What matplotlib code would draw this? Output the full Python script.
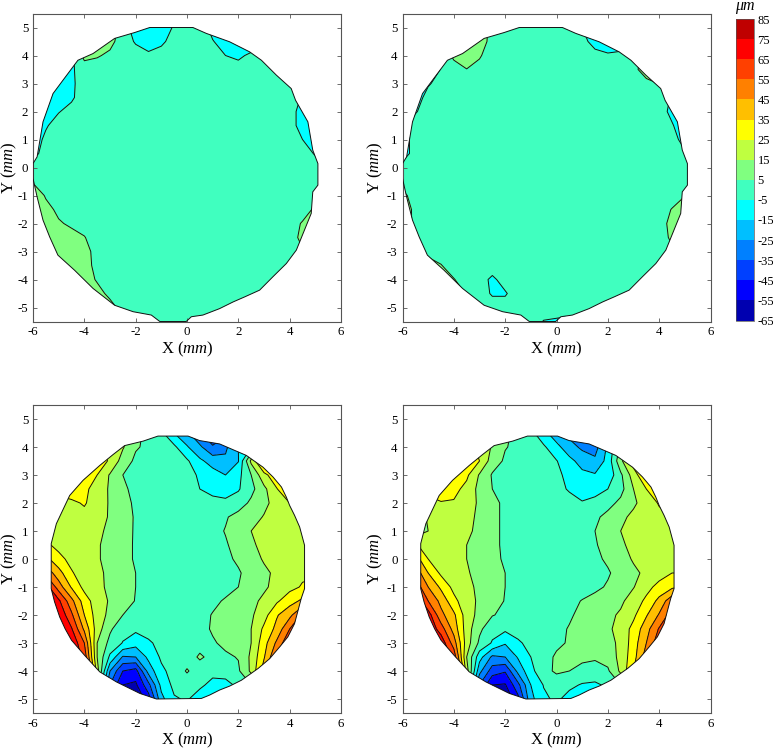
import numpy as np
import matplotlib
matplotlib.use("Agg")
import matplotlib.pyplot as plt
from matplotlib.colors import ListedColormap, BoundaryNorm
from matplotlib.patches import Polygon

plt.rcParams['font.family'] = ['Liberation Serif', 'DejaVu Serif']
plt.rcParams['mathtext.fontset'] = 'custom'
plt.rcParams['mathtext.rm'] = 'Liberation Serif'
plt.rcParams['mathtext.it'] = 'Liberation Serif:italic'
plt.rcParams['axes.unicode_minus'] = False

# ---- data ----
levels = [-65, -55, -45, -35, -25, -15, -5, 5, 15, 25, 35, 45, 55, 65, 75, 85]
level_colors = ['#0000b0', '#0000ff', '#0040ff', '#0080ff', '#00bfff', '#00ffff', '#40ffbf', '#80ff80',
                '#bfff40', '#ffff00', '#ffbf00', '#ff8000', '#ff4000', '#ff0000', '#bf0000']
x_ticks = [-6, -4, -2, 0, 2, 4, 6]
y_ticks = [-5, -4, -3, -2, -1, 0, 1, 2, 3, 4, 5]

x_top = [-6, -5.5, -5, -4.5, -4, -3.5, -3, -2.5, -2, -1.5, -1, -.5, 0, .5, 1, 1.5, 2, 2.5, 3, 3.5, 4, 4.5, 5, 5.5]
y_top = [5.5, 5, 4.5, 4, 3.5, 3, 2.5, 2, 1.5, 1, .5, 0, -.5, -1, -1.5, -2, -2.5, -3, -3.5, -4, -4.5, -5, -5.5]
x_bot = [-5.5, -5, -4.5, -4, -3.5, -3, -2.5, -2, -1.5, -1, -.5, 0, .5, 1, 1.5, 2, 2.5, 3, 3.5, 4, 4.5, 5]
y_bot = [4.5, 4, 3.5, 3, 2.5, 2, 1.5, 1, .5, 0, -.5, -1, -1.5, -2, -2.5, -3, -3.5, -4, -4.5, -5, -5.5]

rim_top_x = [-.55, .23, .75, 1.66, 2.44, 2.9, 3.48, 4.06, 4.23, 4.71, 4.9, 5.1, 5.1, 4.9, 4.84, 4.26, 3.87, 3.35, 2.83, 2.25,
             1.8, 1.27, .62, .17, -.03, -1.06, -1.39, -2.1, -2.82, -3.66, -4.38, -5.03, -5.35, -5.61, -5.84, -6, -6, -5.84,
             -5.61, -5.22, -4.83, -4.25, -3.66, -2.82, -2.04, -1.45]
rim_top_y = [5, 5, 4.79, 4.49, 4.13, 3.83, 3.3, 2.82, 2.4, 1.63, .62, .14, -.63, -.87, -1.64, -2.95, -3.43, -3.9, -4.38, -4.62,
             -4.8, -5.04, -5.27, -5.33, -5.5, -5.5, -5.27, -5.15, -4.92, -4.32, -3.67, -3.13, -2.48, -1.88, -1.05, -.39, .14, .38,
             1.63, 2.64, 3.12, 3.83, 4.07, 4.61, 4.82, 5]
rim_bot_x = [-1.13, .04, .49, 1.27, 2.31, 2.96, 3.35, 3.68, 3.87, 4, 4.19, 4.39, 4.58, 4.58, 4.45, 4.19, 3.93, 3.61, 3.22, 2.77,
             2.12, 1.66, 1.27, .88, .56, -1.19, -1.84, -2.75, -3.4, -3.99, -4.5, -4.75, -4.96, -5.16, -5.29, -5.29, -5.09,
             -4.57, -4.05, -3.4, -2.88, -2.43, -1.71]
rim_bot_y = [4.39, 4.39, 4.23, 4.11, 3.7, 3.28, 2.93, 2.57, 2.21, 1.91, 1.56, 1.14, .49, -1.06, -1.41, -2.31, -2.78, -3.14, -3.56,
             -3.91, -4.33, -4.54, -4.68, -4.86, -4.98, -5, -4.8, -4.39, -4.03, -3.44, -2.9, -2.49, -2.07, -1.53, -1.06, .55, 1.26,
             2.27, 2.81, 3.34, 3.73, 4.05, 4.21]

z_top_left = [
 [0,0,0,0,0,0,10,0,-12,-12,-12,-6,0,0,-12,-12,-12,-12,0,0,0,0,0,0],
 [0,0,0,0,0,0,12,0,-10,-12,-10,-4,0,0,-8,-12,-12,-12,0,0,0,0,0,0],
 [0,0,0,0,12,12,8,0,-6,-10,-7,-1,0,0,-4.5,-9,-11,-12,0,0,0,0,0,0],
 [0,0,0,-8,8,6,3,0,-1,-3,-1,0,0,0,-2,-5,-7,-3,0,0,0,0,0,0],
 [0,0,-12,-6.5,0,0,0,0,0,0,0,0,0,0,0,0,-1,0,0,0,0,0,0,0],
 [0,-12,-11,-7,0,0,0,0,0,0,0,0,0,0,0,0,0,0,0,0,0,0,0,0],
 [-12,-12,-10,-6.5,0,0,0,0,0,0,0,0,0,0,0,0,0,0,0,0,0,-6,-12,-12],
 [-12,-12,-5.5,-2,0,0,0,0,0,0,0,0,0,0,0,0,0,0,0,0,0,-10,-12,-12],
 [-12,-6,-1,0,0,0,0,0,0,0,0,0,0,0,0,0,0,0,0,0,0,-10,-12,-12],
 [-10,-3,0,0,0,0,0,0,0,0,0,0,0,0,0,0,0,0,0,0,0,-5,-12,-12],
 [-9,0,0,0,0,0,0,0,0,0,0,0,0,0,0,0,0,0,0,0,0,0,-6,-12],
 [0,0,0,0,0,0,0,0,0,0,0,0,0,0,0,0,0,0,0,0,0,0,0,0],
 [4,0,0,0,0,0,0,0,0,0,0,0,0,0,0,0,0,0,0,0,0,0,0,0],
 [12,4,0,0,0,0,0,0,0,0,0,0,0,0,0,0,0,0,0,0,0,0,0,0],
 [12,8,3,0,0,0,0,0,0,0,0,0,0,0,0,0,0,0,0,0,0,0,7,12],
 [12,12,6,3.5,1,0,0,0,0,0,0,0,0,0,0,0,0,0,0,0,0,6,12,12],
 [12,12,6,8,5.5,0,0,0,0,0,0,0,0,0,0,0,0,0,0,0,0,8,12,12],
 [12,12,10,12,9,1,0,0,0,0,0,0,0,0,0,0,0,0,0,0,0,4,8,8],
 [12,12,12,12,9,2,0,0,0,0,0,0,0,0,0,0,0,0,0,0,0,0,0,0],
 [12,12,12,12,12,3.5,0,0,0,0,0,0,0,0,0,0,0,0,0,0,0,0,0,0],
 [12,12,12,12,12,10,1.5,0,0,0,0,0,0,0,0,0,0,0,0,0,0,0,0,0],
 [12,12,12,12,12,12,10,0,0,0,0,0,0,0,0,0,0,0,0,0,0,0,0,0],
 [12,12,12,12,12,12,12,0,0,0,0,0,0,0,0,0,0,0,0,0,0,0,0,0],
]

z_top_right = [
 [0,0,0,0,0,0,12,0,0,0,0,0,0,0,-8,-12,-12,-12,0,0,0,0,0,0],
 [0,0,0,0,0,0,14,0,0,0,0,0,0,0,-5,-12,-12,-12,0,0,0,0,0,0],
 [0,0,0,0,15,15,12,0,0,0,0,0,0,0,-2.5,-8,-12,-12,0,0,0,0,0,0],
 [0,0,0,0,6.5,14,6,0,0,0,0,0,0,0,0,-2.5,-3.5,-2,0,10,12,0,0,0],
 [0,0,-12,-4.5,2,4.6,2,0,0,0,0,0,0,0,0,0,0,0,0,14,12,0,0,0],
 [0,-12,-6.5,0,0,0,0,0,0,0,0,0,0,0,0,0,0,0,0,0,5.5,0,0,0],
 [-12,-12,0,0,0,0,0,0,0,0,0,0,0,0,0,0,0,0,0,0,0,-6,-12,-12],
 [-12,-6,0,0,0,0,0,0,0,0,0,0,0,0,0,0,0,0,0,0,0,-8,-12,-12],
 [-9,0,0,0,0,0,0,0,0,0,0,0,0,0,0,0,0,0,0,0,0,-4,-12,-12],
 [-11,0,0,0,0,0,0,0,0,0,0,0,0,0,0,0,0,0,0,0,0,-1,-9,-12],
 [-11,0,0,0,0,0,0,0,0,0,0,0,0,0,0,0,0,0,0,0,0,0,-3.5,-12],
 [0,0,0,0,0,0,0,0,0,0,0,0,0,0,0,0,0,0,0,0,0,0,0,0],
 [0,0,0,0,0,0,0,0,0,0,0,0,0,0,0,0,0,0,0,0,0,0,0,0],
 [8,0,0,0,0,0,0,0,0,0,0,0,0,0,0,0,0,0,0,0,0,0,4.5,10],
 [12,2,0,0,0,0,0,0,0,0,0,0,0,0,0,0,0,0,0,0,0,5.5,14,14],
 [10,3,0,0,0,0,0,0,0,0,0,0,0,0,0,0,0,0,0,0,0,8.5,15,15],
 [0,0,0,0,0,0,0,0,0,0,0,0,0,0,0,0,0,0,0,0,0,7,12,12],
 [0,0,0,0,0,0,0,0,0,0,0,0,0,0,0,0,0,0,0,0,0,3,5,5],
 [0,0,12,5.5,0,0,0,0,0,0,0,0,0,0,0,0,0,0,0,0,0,0,0,0],
 [0,0,14,14,5.5,0,-1,-7,-1,0,0,0,0,0,0,0,0,0,0,0,0,0,0,0],
 [0,0,14,14,12,4,-1,-6,-6,0,0,0,0,0,0,0,0,0,0,0,0,0,0,0],
 [0,0,14,14,14,10,3,-1,-1,0,0,0,0,0,0,0,0,0,0,0,0,0,0,0],
 [0,0,14,14,14,14,3,0,0,0,0,-5.5,-6.5,-8,-5,0,0,0,0,0,0,0,0,0],
]

z_bottom_left = [
 [35,35,40,38,30,25,18,8,2,-3,-15,-23,-34,-42,-38,-20,-5,10,25,35,40,40],
 [35,38,42,38,30,22,16,6,3,1,-3,-14,-23,-34,-27,-15,-5,5,25,35,40,40],
 [38,40,42,36,29,24,10.4,3,1.5,.5,0,-3.5,-13,-19,-23,-15.5,17.5,40,42,42,42,42],
 [42,42,44,37,25,14,5,3,2,1,0,-2.5,-6,-11,-15,-8,5,22,32,42,42,42],
 [28,28,31,28,19.5,14,6,3.5,2,1,0,-1,-5,-7,-8,-6,2,12.5,24.5,35,40,40],
 [22,22,23,26,20,14,7,4,2,1,0,0,0,-3,-3.5,0,7,13,18,25,32,35],
 [20,20,20,22,19,14,9,4,2,1,0,0,0,1,4,8.5,12,15.5,18,19,21,22],
 [20,20,20,18,17,13,8.5,4,2,1,0,0,0,2,5.5,10,15,18,19,19,20,20],
 [27,22,20,18,16,12,8,4,2,1,0,0,0,1,4,8.5,13.5,17.5,19,20,20,20],
 [38,28,22,19,16,12,8,4,2,1,0,0,0,1,3,6.5,11,16,20,21,22,22],
 [52,39,26,20,17,13,9,5,3,1,0,0,0,.5,2,4,8.5,13,17,20,23,24],
 [70,50,34,22,17.5,13,9,5,3,1,0,0,0,.5,2,5,9,13.5,18,22,26,27],
 [74,67,48,30,19.5,14,9.5,4.5,2.5,1,0,0,1,3,6,9,12.5,17,23.5,31,37,40],
 [74,74,57,35,20,12.5,5,3,2,1,0,0,2,5.5,8.5,11,13.5,21,34,42,57,60],
 [74,74,66,43,20,6.5,-1.5,-3,-1,0,0,0,2,6,8.5,10.5,15,27,38,55,70,75],
 [74,74,74,55,15,2,-5.5,-11,-6.5,-2,0,0,1,4,7,9.5,15,31,47,65,75,80],
 [74,74,74,62,15,-7,-26,-25,-12.5,-3.5,-.5,0,6.5,2,3.5,5.5,17,34,56,70,80,85],
 [74,74,74,74,20,-25,-45,-49,-21,-7,-1.5,6,-.5,-2,-1,3.5,17,40,65,75,80,85],
 [50,50,50,50,10,-35,-55,-57,-38,-12,-2.5,-1,-3,-8,-8,-3,5,30,50,60,60,60],
 [-20,-20,-20,-20,-20,-50,-62,-64,-50,-18,-6,-4,-10,-14,-14,-8,5,20,30,30,30,30],
 [-30,-30,-30,-30,-30,-55,-65,-65,-55,-25,-10,-6,-15,-18,-18,-10,5,20,30,30,30,30],
]

z_bottom_right = [
 [35,35,40,38,30,25,17,7,2,-2,-12,-21,-28,-34,-33,-20,-5,10,25,35,40,40],
 [35,38,42,38,30,22,14,5.5,3,1,-3.5,-12,-21,-27,-29,-13,7,25,35,40,40,40],
 [38,40,42,38,31,25,10,3.5,2,1,-1,-4.5,-12,-19,-23,-11.5,12.5,30,42,42,42,42],
 [40,40,44,36,27,14,4,3,2,1,-.5,-3,-7.5,-12.5,-14,-12,3,20,35,42,42,42],
 [28,28,33,28,22,12,5,3.5,2,1,0,-2,-6,-8,-7.5,-5,1.5,15,25,35,40,40],
 [18,22,24,24,21,13,7,3.5,2,1,0,0,-1.5,-4.5,-3,1.5,7.5,13.5,19,26,32,35],
 [10,16,20,20,18,13,7,3.5,2,1,0,0,0,.5,3,8,13,17,19,22,25,25],
 [8,15,19,19,17,12.5,7,3.5,2,1,0,0,0,1.5,5,10,15,18,19,20,21,21],
 [26,21,19,17,15,11,7,3.5,2,1,0,0,0,1.5,4,9,13.5,17.5,19,19,20,20],
 [40,25,20,17,15,11,7,4,2,1,0,0,0,1,3,6.5,11,16,19,20,21,21],
 [52,35,23,18.5,16,12,8,5,3,1,0,0,0,.5,2,4,8.5,13,17,21,25,25],
 [62,45,33,22,17.5,13,9,5,3,1,0,0,0,.5,3,6,10.5,14.5,22,28,33,37],
 [74,55,42,28,18.5,13.5,9,4.5,2.5,1,0,0,2,5.5,8,10.5,13,20,27,38,52,55],
 [74,70,48,37,20,12,5.5,3,2,1,0,1,4,7,10,12.5,16.5,23,34,46,60,65],
 [74,74,60,41,20,7,-1.5,-3,-1,0,1,3,5.5,8,10.5,13,19,28,41,56,70,75],
 [74,74,72,50,20,3,-6,-14,-6.5,-2,0,3,6,8,10,12,17,30,45,62,75,80],
 [74,74,74,62,15,-11,-27,-25,-14,-5,1,6.5,7.5,6.5,6,9,18,31,50,70,80,85],
 [74,74,74,74,20,-22,-40,-44,-22,-8,2,6.5,5,3,2,3.5,17,35,65,80,85,85],
 [50,50,50,50,10,-35,-55,-56,-38,-15,-4.5,-.5,-2.5,-6,-7,-3,5,30,50,60,60,60],
 [-20,-20,-20,-20,-20,-50,-62,-64,-48,-18,-7,-3,-9,-13,-13,-8,5,20,30,30,30,30],
 [-30,-30,-30,-30,-30,-55,-65,-65,-55,-25,-10,-6,-15,-18,-18,-10,5,20,30,30,30,30],
]

panels = [
    (z_top_left, x_top, y_top, rim_top_x, rim_top_y, [33, 13.5, 308, 308], 24),
    (z_top_right, x_top, y_top, rim_top_x, rim_top_y, [402.5, 13.5, 308, 308], 27),
    (z_bottom_left, x_bot, y_bot, rim_bot_x, rim_bot_y, [33, 405, 308, 308], 24),
    (z_bottom_right, x_bot, y_bot, rim_bot_x, rim_bot_y, [402.5, 405, 308, 308], 27),
]

W, H = 773, 748
fig = plt.figure(figsize=(W / 100, H / 100), dpi=100)
cmap = ListedColormap(level_colors)
norm = BoundaryNorm(levels, cmap.N)
frame = '#555555'

def add_px_axes(box):
    l, t, w, h = box
    return fig.add_axes([l / W, 1 - (t + h) / H, w / W, h / H])

for z, xs, ys, rx, ry, box, label_off in panels:
    ax = add_px_axes(box)
    Z = np.array(z, dtype=float)
    filled = ax.contourf(xs, ys, Z, levels=levels, cmap=cmap, norm=norm)
    lines = ax.contour(xs, ys, Z, levels=levels, colors='#111111', linewidths=0.7, linestyles='solid')
    rim = Polygon(np.column_stack([rx, ry]), closed=True, facecolor='none', edgecolor='#111111', linewidth=0.7,
                  transform=ax.transData, zorder=5)
    ax.add_patch(rim)
    filled.set_clip_path(rim)
    lines.set_clip_path(rim)
    ax.set_xlim(-6, 6)
    ax.set_ylim(-5.5, 5.5)
    ax.set_xticks(x_ticks)
    ax.set_yticks(y_ticks)
    ax.tick_params(direction='in', top=True, right=True, length=3, width=0.6, color=frame, labelsize=9.3, pad=3.5)
    for s in ax.spines.values():
        s.set_color(frame)
        s.set_linewidth(0.8)
    ax.set_xlabel(r'X ($\mathit{mm}$)', fontsize=12, labelpad=1)
    ax.set_ylabel(r'Y ($\mathit{mm}$)', fontsize=12, va='center')
    ax.yaxis.set_label_coords(-label_off / 308, 0.5)

cax = add_px_axes([736, 19, 18, 301.5])
sm = plt.cm.ScalarMappable(norm=norm, cmap=cmap)
cb = fig.colorbar(sm, cax=cax, ticks=levels, spacing='uniform')
cb.ax.tick_params(length=0, labelsize=9, pad=2.5)
cb.ax.set_yticklabels([str(v) for v in levels])
cb.outline.set_linewidth(0.5)
cb.outline.set_edgecolor(frame)
fig.text(735 / W, 1 - 6.5 / H, 'μm', fontsize=11.5, style='italic', ha='left', va='center')

fig.savefig('out.png', dpi=100)
